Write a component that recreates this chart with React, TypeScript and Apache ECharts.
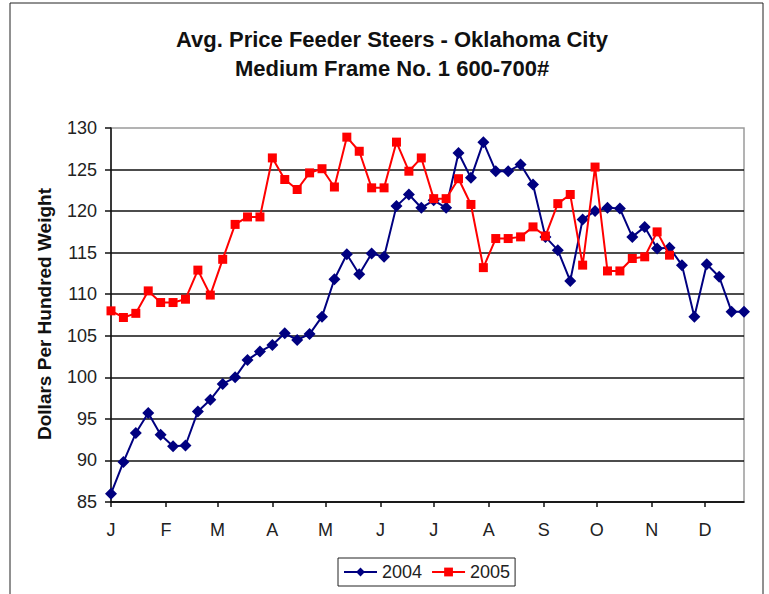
import React, { useEffect, useRef } from "react";
import * as echarts from "echarts";

// Weekly prices ($/cwt), one value per week starting the first week of January
const PRICES_2004 = [
  86.0, 89.8, 93.3, 95.7, 93.1, 91.7, 91.8, 95.9, 97.3, 99.2,
  100.0, 102.1, 103.1, 103.9, 105.3, 104.5, 105.2, 107.3, 111.8, 114.8,
  112.4, 114.9, 114.5, 120.6, 122.0, 120.4, 121.3, 120.4, 127.0, 124.0,
  128.3, 124.8, 124.8, 125.6, 123.2, 116.9, 115.3, 111.6, 119.0, 120.0,
  120.4, 120.3, 116.9, 118.1, 115.5, 115.6, 113.5, 107.3, 113.6, 112.1,
  107.9, 107.9,
];
const PRICES_2005 = [
  108.0, 107.2, 107.7, 110.4, 109.0, 109.0, 109.4, 112.9, 109.9, 114.2,
  118.4, 119.3, 119.3, 126.4, 123.8, 122.6, 124.6, 125.1, 122.9, 128.9,
  127.2, 122.8, 122.8, 128.3, 124.8, 126.4, 121.5, 121.5, 123.9, 120.8,
  113.2, 116.7, 116.7, 116.9, 118.1, 117.0, 120.9, 122.0, 113.5, 125.3,
  112.8, 112.8, 114.3, 114.5, 117.5, 114.7,
];
const MONTH_LABELS = ["J", "F", "M", "A", "M", "J", "J", "A", "S", "O", "N", "D"];
const MONTH_START_DAYS = [0, 31, 60, 91, 121, 152, 182, 213, 244, 274, 305, 335];
const DAYS_PER_WEEK = 7;
const LAST_DAY = 357;
const Y_MIN = 85;
const Y_MAX = 130;
const Y_STEP = 5;

const FONT = "'Liberation Sans', Arial, Helvetica, sans-serif";

const toPoints = (vals: number[]) => vals.map((v, i) => [i * DAYS_PER_WEEK, v]);

export default function App() {
  const ref = useRef<HTMLDivElement>(null);
  useEffect(() => {
    if (!ref.current) return;
    const chart = echarts.init(ref.current, undefined, { renderer: "svg" });
    chart.setOption({
      animation: false,
      backgroundColor: "#ffffff",
      title: {
        text: "Avg. Price Feeder Steers - Oklahoma City\nMedium Frame No. 1 600-700#",
        left: 392,
        top: 25,
        padding: 0,
        textAlign: "center",
        textStyle: {
          fontFamily: FONT,
          fontSize: 22,
          fontWeight: "bold",
          color: "#111",
          lineHeight: 29,
        },
      },
      graphic: [
        {
          type: "rect",
          shape: { x: 10, y: 3, width: 753, height: 620 },
          style: { fill: "none", stroke: "#222", lineWidth: 1 },
          silent: true,
          z: -1,
        },
        {
          type: "text",
          x: 44,
          y: 314,
          rotation: Math.PI / 2,
          style: {
            text: "Dollars Per Hundred Weight",
            fontFamily: FONT,
            fontSize: 19,
            fontWeight: "bold",
            fill: "#111",
            align: "center",
            verticalAlign: "middle",
          },
        },
      ],
      legend: {
        left: 338,
        top: 558,
        padding: [5, 5],
        itemGap: 9,
        itemWidth: 33,
        itemHeight: 11,
        borderColor: "#222",
        borderWidth: 1,
        textStyle: { fontFamily: FONT, fontSize: 18, color: "#222" },
        data: ["2004", "2005"],
      },
      grid: {
        left: 111,
        right: 25,
        top: 128,
        bottom: 92,
        show: true,
        borderColor: "#9a9a9a",
        borderWidth: 1.5,
        backgroundColor: "transparent",
      },
      xAxis: {
        type: "value",
        min: 0,
        max: LAST_DAY,
        axisLine: { show: true, onZero: false, lineStyle: { color: "#111", width: 1.5 } },
        axisTick: {
          show: true,
          customValues: MONTH_START_DAYS,
          length: 5,
          inside: false,
          lineStyle: { color: "#111", width: 1.5 },
        },
        axisLabel: {
          customValues: MONTH_START_DAYS,
          formatter: (v: number) => MONTH_LABELS[MONTH_START_DAYS.indexOf(v)] ?? "",
          fontFamily: FONT,
          fontSize: 18,
          color: "#222",
          margin: 19,
        },
        splitLine: { show: false },
      },
      yAxis: {
        type: "value",
        min: Y_MIN,
        max: Y_MAX,
        interval: Y_STEP,
        axisLine: { show: true, lineStyle: { color: "#111", width: 1.5 } },
        axisTick: { show: true, length: 6, lineStyle: { color: "#111", width: 1.5 } },
        axisLabel: {
          fontFamily: FONT,
          fontSize: 18,
          color: "#222",
          margin: 14,
        },
        splitLine: {
          show: true,
          showMaxLine: false,
          lineStyle: { color: "#111", width: 1.5 },
        },
      },
      series: [
        {
          name: "2004",
          type: "line",
          data: toPoints(PRICES_2004),
          symbol: "diamond",
          symbolSize: 12,
          itemStyle: { color: "#000080" },
          lineStyle: { color: "#000080", width: 2 },
          z: 3,
        },
        {
          name: "2005",
          type: "line",
          data: toPoints(PRICES_2005),
          symbol: "rect",
          symbolSize: 9,
          itemStyle: { color: "#ff0000" },
          lineStyle: { color: "#ff0000", width: 2 },
          z: 4,
        },
      ],
    });
    return () => chart.dispose();
  }, []);
  return (
    <div
      ref={ref}
      style={{ position: "absolute", left: 0, top: 0, width: 769, height: 594 }}
    />
  );
}
